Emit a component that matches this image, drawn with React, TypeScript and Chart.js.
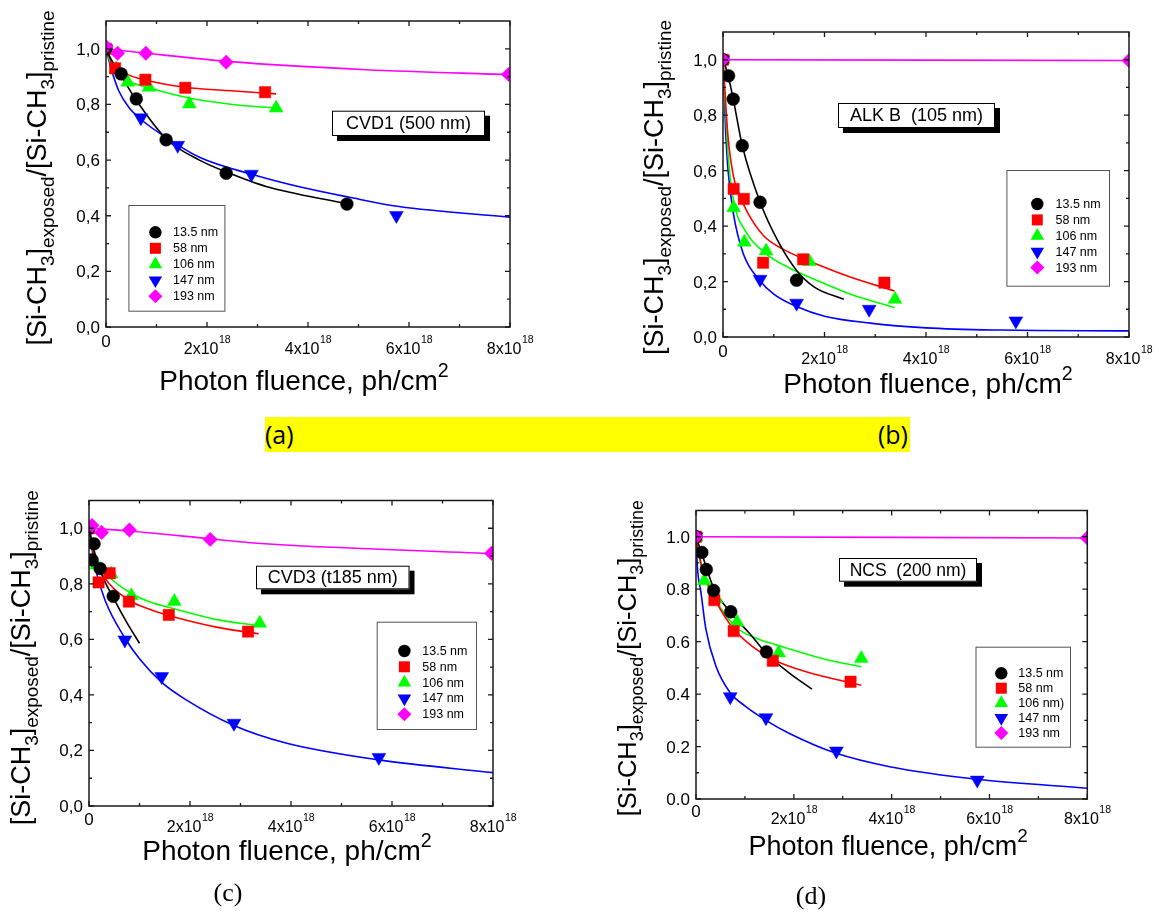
import React, { useEffect, useRef } from "react";
import { Chart, registerables } from "chart.js";

Chart.register(...registerables);

const FONT = "'Liberation Sans', Arial, Helvetica, sans-serif";

// ---------------- data (x in units of 1e18 ph/cm^2) ----------------
const SERIES = ["13.5 nm", "58 nm", "106 nm", "147 nm", "193 nm"];
const SERIES_D = ["13.5 nm", "58 nm", "106 nm)", "147 nm", "193 nm"];
const PANEL_TITLES = ["CVD1 (500 nm)", "ALK B  (105 nm)", "CVD3 (t185 nm)", "NCS  (200 nm)"];

const X_MAJOR = [0, 2, 4, 6, 8];
const X_MINOR = [1, 3, 5, 7];
const X_TICK_BASE = ["0", "2x10", "4x10", "6x10", "8x10"];
const X_TICK_EXP = ["", "18", "18", "18", "18"];
const Y_MAJOR = [0, 0.2, 0.4, 0.6, 0.8, 1.0];
const Y_MINOR = [0.1, 0.3, 0.5, 0.7, 0.9];
const Y_LABELS_COMMA = ["0,0", "0,2", "0,4", "0,6", "0,8", "1,0"];
const Y_LABELS_DOT = ["0.0", "0.2", "0.4", "0.6", "0.8", "1.0"];
const X_RANGE = [0, 8];
const Y_RANGE = [0, 1.1];

const Y_TITLE: [string, string][] = [["[Si-CH", "n"], ["3", "sub"], ["]", "n"], ["exposed", "sub"], ["/[Si-CH", "n"], ["3", "sub"], ["]", "n"], ["pristine", "sub"]];
const X_TITLE: [string, string][] = [["Photon fluence, ph/cm", "n"], ["2", "sup"]];

// Panel (a) CVD1
const A_P135 = [[0, 1.0], [0.3, 0.91], [0.6, 0.82], [1.19, 0.673], [2.38, 0.553], [4.77, 0.442]];
const A_P58 = [[0, 1.0], [0.18, 0.93], [0.78, 0.889], [1.57, 0.86], [3.15, 0.844]];
const A_P106 = [[0, 1.0], [0.2, 0.928], [0.43, 0.88], [0.85, 0.862], [1.65, 0.802], [3.37, 0.787]];
const A_P147 = [[0, 1.0], [0.69, 0.752], [1.42, 0.653], [2.88, 0.549], [5.75, 0.401]];
const A_P193 = [[0, 1.008], [0.23, 0.984], [0.79, 0.984], [2.38, 0.952], [7.97, 0.908]];
const A_F135 = [[0, 1.0], [0.1, 0.963], [0.3, 0.903], [0.6, 0.815], [1.2, 0.675], [1.85, 0.6], [2.4, 0.556], [3.17, 0.505], [4.77, 0.443]];
const A_F58 = [[0, 1.0], [0.13, 0.945], [0.4, 0.91], [0.78, 0.888], [1.57, 0.862], [2.4, 0.85], [3.37, 0.838]];
const A_F106 = [[0, 1.0], [0.13, 0.93], [0.43, 0.885], [0.85, 0.86], [1.65, 0.823], [2.5, 0.8], [3.37, 0.787]];
const A_F147 = [[0, 1.0], [0.1, 0.93], [0.25, 0.85], [0.45, 0.79], [0.7, 0.745], [1.2, 0.68], [1.85, 0.61], [2.9, 0.548], [3.85, 0.503], [4.8, 0.467], [5.8, 0.433], [8.0, 0.395]];
const A_F193 = [[0, 1.0], [0.8, 0.984], [2.4, 0.955], [5.16, 0.925], [8.0, 0.907]];

// Panel (b) ALK B
const B_P135 = [[0, 1.0], [0.11, 0.942], [0.2, 0.858], [0.38, 0.69], [0.73, 0.486], [1.45, 0.205]];
const B_P58 = [[0, 1.0], [0.21, 0.534], [0.41, 0.498], [0.79, 0.268], [1.58, 0.28], [3.18, 0.196]];
const B_P106 = [[0, 1.0], [0.21, 0.466], [0.42, 0.342], [0.85, 0.31], [1.7, 0.272], [3.39, 0.136]];
const B_P147 = [[0, 1.0], [0.73, 0.208], [1.45, 0.122], [2.88, 0.1], [5.77, 0.058]];
const B_P193 = [[0, 1.0], [8.0, 0.997]];
const B_F135 = [[0, 1.0], [0.05, 0.975], [0.11, 0.935], [0.2, 0.86], [0.38, 0.69], [0.73, 0.487], [1.1, 0.34], [1.45, 0.24], [1.8, 0.18], [2.38, 0.136]];
const B_F58 = [[0, 1.0], [0.05, 0.85], [0.1, 0.72], [0.2, 0.585], [0.3, 0.525], [0.48, 0.45], [0.8, 0.365], [1.2, 0.315], [1.58, 0.283], [2.45, 0.22], [3.38, 0.166]];
const B_F106 = [[0, 1.0], [0.05, 0.82], [0.1, 0.66], [0.2, 0.5], [0.45, 0.38], [0.85, 0.3], [1.3, 0.25], [1.8, 0.208], [2.5, 0.155], [3.38, 0.106]];
const B_F147 = [[0, 1.0], [0.05, 0.75], [0.1, 0.6], [0.2, 0.45], [0.4, 0.3], [0.72, 0.205], [1.0, 0.155], [1.45, 0.11], [2.0, 0.075], [2.9, 0.05], [4.0, 0.033], [5.5, 0.025], [8.0, 0.022]];
const B_F193 = [[0, 1.0], [8.0, 0.997]];

// Panel (c) CVD3
const C_P135 = [[0, 1.0], [0.06, 0.886], [0.1, 0.944], [0.22, 0.855], [0.48, 0.755]];
const C_P58 = [[0, 1.0], [0.19, 0.805], [0.41, 0.838], [0.79, 0.736], [1.58, 0.688], [3.15, 0.628]];
const C_P106 = [[0, 1.0], [0.15, 0.868], [0.44, 0.835], [0.84, 0.757], [1.69, 0.736], [3.38, 0.658]];
const C_P147 = [[0, 1.0], [0.71, 0.598], [1.44, 0.466], [2.87, 0.298], [5.74, 0.175]];
const C_P193 = [[0.06, 1.01], [0.25, 0.985], [0.8, 0.994], [2.4, 0.96], [7.97, 0.91]];
const C_F135 = [[0, 1.0], [0.1, 0.92], [0.25, 0.835], [0.48, 0.75], [0.75, 0.66], [1.0, 0.586]];
const C_F58 = [[0, 1.0], [0.1, 0.9], [0.2, 0.855], [0.4, 0.8], [0.8, 0.74], [1.2, 0.708], [1.58, 0.686], [2.5, 0.645], [3.36, 0.62]];
const C_F106 = [[0, 1.0], [0.1, 0.91], [0.2, 0.87], [0.43, 0.82], [0.84, 0.765], [1.2, 0.735], [1.69, 0.71], [2.5, 0.672], [3.36, 0.649]];
const C_F147 = [[0, 1.0], [0.12, 0.86], [0.32, 0.74], [0.71, 0.605], [1.0, 0.53], [1.44, 0.445], [1.9, 0.385], [2.87, 0.29], [3.88, 0.228], [5.74, 0.166], [8.0, 0.12]];
const C_F193 = [[0, 1.0], [0.8, 0.99], [2.4, 0.962], [3.2, 0.948], [8.0, 0.908]];

// Panel (d) NCS
const D_P135 = [[0, 1.0], [0.12, 0.94], [0.21, 0.875], [0.36, 0.795], [0.71, 0.714], [1.44, 0.561]];
const D_P58 = [[0, 1.0], [0.375, 0.758], [0.77, 0.64], [1.57, 0.527], [3.16, 0.447]];
const D_P106 = [[0, 1.0], [0.17, 0.832], [0.41, 0.763], [0.84, 0.674], [1.69, 0.557], [3.38, 0.536]];
const D_P147 = [[0, 1.0], [0.7, 0.39], [1.43, 0.31], [2.87, 0.183], [5.75, 0.072]];
const D_P193 = [[0, 1.0], [8.0, 0.995]];
const D_F135 = [[0, 1.0], [0.12, 0.935], [0.36, 0.805], [0.71, 0.71], [1.1, 0.63], [1.44, 0.555], [1.91, 0.48], [2.37, 0.419]];
const D_F58 = [[0, 1.0], [0.1, 0.9], [0.2, 0.84], [0.375, 0.765], [0.77, 0.648], [1.2, 0.575], [1.57, 0.532], [2.25, 0.485], [3.38, 0.434]];
const D_F106 = [[0, 1.0], [0.1, 0.89], [0.2, 0.83], [0.41, 0.755], [0.82, 0.655], [1.2, 0.615], [1.69, 0.585], [2.6, 0.535], [3.38, 0.504]];
const D_F147 = [[0, 1.0], [0.03, 0.88], [0.1, 0.79], [0.2, 0.65], [0.41, 0.505], [0.7, 0.405], [1.0, 0.355], [1.43, 0.3], [1.91, 0.25], [2.87, 0.174], [3.96, 0.123], [5.75, 0.075], [8.0, 0.041]];
const D_F193 = [[0, 1.0], [8.0, 0.995]];

// ---------------- styles & layout ----------------
const COLORS = ["#000000", "#ff0000", "#00ff00", "#0000ff", "#ff00ff"];
const SHAPES = ["circle", "rect", "triangle", "triangleDown", "diamond"];
const DRAW_ORDER = [1, 1, 1, 1, 0];
const CJS_STYLE: Record<string, { style: string; r: number; rot: number }> = {
  circle: { style: "circle", r: 6.4, rot: 0 },
  rect: { style: "rect", r: 8, rot: 0 },
  triangle: { style: "triangle", r: 8, rot: 0 },
  triangleDown: { style: "triangle", r: 8, rot: 180 },
  diamond: { style: "rectRot", r: 7.2, rot: 0 },
};

const PANELS = [
  {
    id: "a", left: 0, top: 0, w: 560, h: 410,
    pad: { left: 106, top: 21, right: 50, bottom: 83 },
    points: [A_P135, A_P58, A_P106, A_P147, A_P193], fits: [A_F135, A_F58, A_F106, A_F147, A_F193],
    yLabels: Y_LABELS_COMMA, names: SERIES, title: PANEL_TITLES[0],
    yT: { dx: -60, dy: 4, f: 27 }, xT: { dy: 63, dx: -4, f: 28 }, xLab: 8,
    box: { x: 226, y: 89.7, w: 153, h: 25.3, f: 18 },
    leg: { x: 22.4, y: 184, w: 97, h: 106.7, mx: 49.4, tx: 67, ry: 211.3, step: 16, f: 12.5 },
  },
  {
    id: "b", left: 590, top: 0, w: 569, h: 410,
    pad: { left: 133, top: 32, right: 30, bottom: 73 },
    points: [B_P135, B_P58, B_P106, B_P147, B_P193], fits: [B_F135, B_F58, B_F106, B_F147, B_F193],
    yLabels: Y_LABELS_COMMA, names: SERIES, title: PANEL_TITLES[1],
    yT: { dx: -60, dy: 3, f: 27 }, xT: { dy: 56, dx: 2, f: 28 }, xLab: 8,
    box: { x: 115, y: 71, w: 157, h: 25, f: 18 },
    leg: { x: 283.4, y: 138, w: 103.6, h: 116.7, mx: 314.3, tx: 332.5, ry: 172, step: 15.9, f: 12.5 },
  },
  {
    id: "c", left: 0, top: 470, w: 560, h: 443,
    pad: { left: 89, top: 30.5, right: 67, bottom: 107 },
    points: [C_P135, C_P58, C_P106, C_P147, C_P193], fits: [C_F135, C_F58, C_F106, C_F147, C_F193],
    yLabels: Y_LABELS_COMMA, names: SERIES, title: PANEL_TITLES[2],
    yT: { dx: -59, dy: 4.5, f: 27 }, xT: { dy: 54, dx: -4, f: 28 }, xLab: 7,
    box: { x: 167, y: 65.2, w: 153.5, h: 23.6, f: 18 },
    leg: { x: 287.7, y: 121.2, w: 100.3, h: 108.3, mx: 315.4, tx: 333.3, ry: 150.5, step: 15.8, f: 12.5 },
  },
  {
    id: "d", left: 590, top: 470, w: 569, h: 443,
    pad: { left: 106, top: 40.5, right: 71.7, bottom: 114 },
    points: [D_P135, D_P58, D_P106, D_P147, D_P193], fits: [D_F135, D_F58, D_F106, D_F147, D_F193],
    yLabels: Y_LABELS_DOT, names: SERIES_D, title: PANEL_TITLES[3],
    yT: { dx: -60, dy: 3.5, f: 25.5 }, xT: { dy: 56, dx: -3.5, f: 27 }, xLab: 6,
    box: { x: 143, y: 47.5, w: 138, h: 23.7, f: 17.5 },
    leg: { x: 279.5, y: 136.2, w: 95.5, h: 101, mx: 305.3, tx: 322.3, ry: 162.8, step: 14.9, f: 12.5 },
  },
];

type Panel = typeof PANELS[number];

function drawRich(ctx: CanvasRenderingContext2D, segs: [string, string][], F: number, cx: number, by: number) {
  const items = segs.map(([t, k]) => {
    const size = k === "n" ? F : F * 0.7;
    ctx.font = `${size}px ${FONT}`;
    return { t, size, w: ctx.measureText(t).width, dy: k === "sub" ? F * 0.28 : k === "sup" ? -F * 0.48 : 0 };
  });
  const total = items.reduce((s, i) => s + i.w, 0);
  let x = cx - total / 2;
  ctx.textAlign = "left";
  ctx.textBaseline = "alphabetic";
  for (const it of items) {
    ctx.font = `${it.size}px ${FONT}`;
    ctx.fillText(it.t, x, by + it.dy);
    x += it.w;
  }
}

function drawMarker(ctx: CanvasRenderingContext2D, shape: string, x: number, y: number, color: string) {
  ctx.fillStyle = color;
  ctx.beginPath();
  if (shape === "circle") {
    ctx.arc(x, y, 6.2, 0, Math.PI * 2);
  } else if (shape === "rect") {
    ctx.rect(x - 5.5, y - 5.5, 11, 11);
  } else if (shape === "triangle") {
    const r = 7.8;
    ctx.moveTo(x, y - r);
    ctx.lineTo(x + r * 0.866, y + r * 0.5);
    ctx.lineTo(x - r * 0.866, y + r * 0.5);
  } else if (shape === "triangleDown") {
    const r = 7.8;
    ctx.moveTo(x, y + r);
    ctx.lineTo(x + r * 0.866, y - r * 0.5);
    ctx.lineTo(x - r * 0.866, y - r * 0.5);
  } else {
    const r = 7;
    ctx.moveTo(x, y - r);
    ctx.lineTo(x + r, y);
    ctx.lineTo(x, y + r);
    ctx.lineTo(x - r, y);
  }
  ctx.closePath();
  ctx.fill();
}

function makeDeco(p: Panel) {
  return {
    id: "deco_" + p.id,
    afterDraw(chart: any) {
      const ctx: CanvasRenderingContext2D = chart.ctx;
      const a = chart.chartArea;
      const xs = chart.scales.x;
      const ys = chart.scales.y;
      ctx.save();
      ctx.fillStyle = "#000";
      ctx.strokeStyle = "#1a1a1a";

      // ticks (inward, on all four sides)
      ctx.lineWidth = 1.3;
      ctx.beginPath();
      const xt = (v: number, len: number) => {
        const px = xs.getPixelForValue(v);
        ctx.moveTo(px, a.bottom); ctx.lineTo(px, a.bottom - len);
        ctx.moveTo(px, a.top); ctx.lineTo(px, a.top + len);
      };
      const yt = (v: number, len: number) => {
        const py = ys.getPixelForValue(v);
        ctx.moveTo(a.left, py); ctx.lineTo(a.left + len, py);
        ctx.moveTo(a.right, py); ctx.lineTo(a.right - len, py);
      };
      X_MAJOR.forEach((v) => xt(v, 5));
      X_MINOR.forEach((v) => xt(v, 3));
      Y_MAJOR.forEach((v) => yt(v, 5));
      Y_MINOR.forEach((v) => yt(v, 3));
      ctx.stroke();

      // frame
      ctx.lineWidth = 1.5;
      ctx.strokeRect(a.left, a.top, a.right - a.left, a.bottom - a.top);

      // y tick labels
      ctx.font = `17px ${FONT}`;
      ctx.textAlign = "right";
      ctx.textBaseline = "alphabetic";
      Y_MAJOR.forEach((v, i) => {
        ctx.fillText(p.yLabels[i], a.left - 6, ys.getPixelForValue(v) + 6);
      });

      // x tick labels
      X_MAJOR.forEach((v, i) => {
        const px = xs.getPixelForValue(v);
        const base = X_TICK_BASE[i];
        const exp = X_TICK_EXP[i];
        if (!exp) {
          ctx.font = `17px ${FONT}`;
          ctx.textAlign = "center";
          ctx.fillText(base, px, a.bottom + p.xLab + 12.2);
        } else {
          ctx.font = `16px ${FONT}`;
          const wb = ctx.measureText(base).width;
          ctx.font = `10.5px ${FONT}`;
          const we = ctx.measureText(exp).width;
          const start = px - (wb + we) / 2;
          ctx.textAlign = "left";
          ctx.font = `16px ${FONT}`;
          ctx.fillText(base, start, a.bottom + p.xLab + 18.5);
          ctx.font = `10.5px ${FONT}`;
          ctx.fillText(exp, start + wb + 0.5, a.bottom + p.xLab + 7.5);
        }
      });

      // axis titles
      drawRich(ctx, X_TITLE, p.xT.f, (a.left + a.right) / 2 + p.xT.dx, a.bottom + p.xT.dy);
      ctx.save();
      ctx.translate(a.left + p.yT.dx, (a.top + a.bottom) / 2 + p.yT.dy);
      ctx.rotate(-Math.PI / 2);
      drawRich(ctx, Y_TITLE, p.yT.f, 0, 0);
      ctx.restore();

      // sample label box with shadow
      const bx = a.left + p.box.x, by = a.top + p.box.y;
      ctx.fillStyle = "#000";
      ctx.fillRect(bx + 5, by + 5, p.box.w, p.box.h);
      ctx.fillStyle = "#fff";
      ctx.fillRect(bx, by, p.box.w, p.box.h);
      ctx.lineWidth = 1;
      ctx.strokeStyle = "#000";
      ctx.strokeRect(bx + 0.5, by + 0.5, p.box.w - 1, p.box.h - 1);
      ctx.fillStyle = "#000";
      ctx.font = `${p.box.f}px ${FONT}`;
      ctx.textAlign = "center";
      ctx.textBaseline = "middle";
      ctx.fillText(p.title, bx + p.box.w / 2, by + p.box.h / 2 + 1);

      // legend
      const lx = a.left + p.leg.x, ly = a.top + p.leg.y;
      ctx.fillStyle = "#fff";
      ctx.fillRect(lx, ly, p.leg.w, p.leg.h);
      ctx.strokeStyle = "#555";
      ctx.lineWidth = 1;
      ctx.strokeRect(lx + 0.5, ly + 0.5, p.leg.w - 1, p.leg.h - 1);
      p.names.forEach((name, i) => {
        const ry = a.top + p.leg.ry + i * p.leg.step;
        drawMarker(ctx, SHAPES[i], a.left + p.leg.mx, ry, COLORS[i]);
        ctx.fillStyle = "#000";
        ctx.font = `${p.leg.f}px ${FONT}`;
        ctx.textAlign = "left";
        ctx.textBaseline = "middle";
        ctx.fillText(name, a.left + p.leg.tx, ry + 0.5);
      });
      ctx.restore();
    },
  };
}

function PanelChart({ p }: { p: Panel }) {
  const ref = useRef<HTMLCanvasElement | null>(null);
  useEffect(() => {
    if (!ref.current) return;
    const datasets: any[] = [];
    p.points.forEach((pts, i) => {
      const st = CJS_STYLE[SHAPES[i]];
      datasets.push({
        type: "scatter",
        label: p.names[i],
        data: pts.map(([x, y]) => ({ x, y })),
        pointStyle: st.style,
        pointRadius: st.r,
        rotation: st.rot,
        pointRotation: st.rot,
        backgroundColor: COLORS[i],
        borderColor: COLORS[i],
        pointBackgroundColor: COLORS[i],
        pointBorderColor: COLORS[i],
        pointBorderWidth: 0.5,
        showLine: false,
        order: DRAW_ORDER[i],
      });
    });
    p.fits.forEach((pts, i) => {
      datasets.push({
        type: "line",
        label: p.names[i] + " fit",
        data: pts.map(([x, y]) => ({ x, y })),
        borderColor: COLORS[i],
        borderWidth: 1.6,
        pointRadius: 0,
        fill: false,
        tension: 0.4,
        cubicInterpolationMode: "monotone",
        order: 2,
      });
    });
    const chart = new Chart(ref.current, {
      type: "scatter",
      data: { datasets },
      options: {
        animation: false,
        responsive: false,
        devicePixelRatio: 1,
        events: [],
        layout: { padding: p.pad },
        scales: {
          x: { type: "linear", min: X_RANGE[0], max: X_RANGE[1], display: false },
          y: { type: "linear", min: Y_RANGE[0], max: Y_RANGE[1], display: false },
        },
        plugins: { legend: { display: false }, tooltip: { enabled: false }, title: { display: false } },
      } as any,
      plugins: [makeDeco(p)],
    });
    return () => chart.destroy();
  }, [p]);
  return (
    <canvas
      ref={ref}
      width={p.w}
      height={p.h}
      style={{ position: "absolute", left: p.left, top: p.top, width: p.w, height: p.h }}
    />
  );
}

export default function App() {
  return (
    <div style={{ position: "absolute", left: 0, top: 0, width: 1159, height: 913, background: "#fff", overflow: "hidden" }}>
      {PANELS.map((p) => (
        <PanelChart key={p.id} p={p} />
      ))}
      <div
        style={{
          position: "absolute", left: 265, top: 417, width: 645, height: 35, background: "#ffff00",
          fontFamily: "'Open Sans', 'Noto Sans', sans-serif", fontSize: 25, lineHeight: "35px", color: "#000",
        }}
      >
        <span style={{ position: "absolute", left: 0, top: 0 }}>(a)</span>
        <span style={{ position: "absolute", right: 2, top: 0 }}>(b)</span>
      </div>
      <div style={{ position: "absolute", left: 198, top: 880, width: 60, textAlign: "center", fontFamily: "'Liberation Serif', 'Times New Roman', serif", fontSize: 26, lineHeight: "25px" }}>(c)</div>
      <div style={{ position: "absolute", left: 781, top: 883, width: 60, textAlign: "center", fontFamily: "'Liberation Serif', 'Times New Roman', serif", fontSize: 26, lineHeight: "25px" }}>(d)</div>
    </div>
  );
}
